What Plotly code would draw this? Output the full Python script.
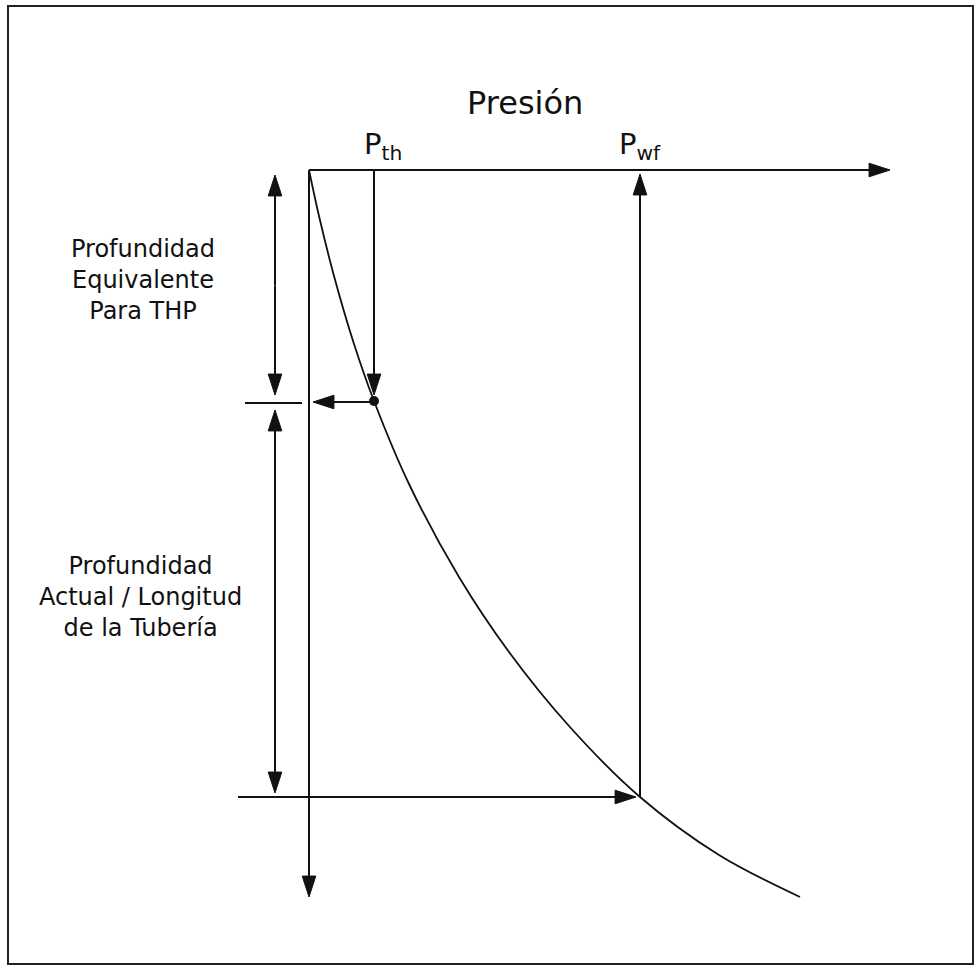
import plotly.graph_objects as go

# ---- Data (horizontal = pressure, vertical = depth; origin at the axes corner) ----
curve_pressure = [0, 10, 25, 45, 65, 100, 150, 200, 260, 331, 410, 491]
curve_depth = [0, 46, 106, 174, 231, 314, 407, 482, 556, 627, 685, 727]
P_th = 65            # tubing head pressure
P_wf = 331           # flowing bottom-hole pressure
depth_equiv = 231    # equivalent depth for THP
depth_total = 627    # equivalent depth + actual depth
pressure_axis_max = 581
depth_axis_max = 727
axis_title = "Presión"
label_pth = "P<sub>th</sub>"
label_pwf = "P<sub>wf</sub>"
label_upper = ["Profundidad", "Equivalente", "Para THP"]
label_lower = ["Profundidad", "Actual / Longitud", "de la Tubería"]

INK = "#111111"
FONT = "DejaVu Sans"
DIM_X = -34          # x of the dimension arrows on the left
ARW = 22             # arrowhead marker size

fig = go.Figure()


def arrow(x0, y0, x1, y1, width=2):
    fig.add_trace(go.Scatter(
        x=[x0, x1], y=[y0, y1], mode="lines+markers",
        line=dict(color=INK, width=width),
        marker=dict(symbol="arrow", size=[0, ARW], angleref="previous",
                    color=INK, opacity=1, line=dict(width=1, color=INK)),
        hoverinfo="skip", showlegend=False))


def seg(x0, y0, x1, y1, width=2):
    fig.add_trace(go.Scatter(
        x=[x0, x1], y=[y0, y1], mode="lines",
        line=dict(color=INK, width=width),
        hoverinfo="skip", showlegend=False))


# gradient curve
fig.add_trace(go.Scatter(x=curve_pressure, y=curve_depth, mode="lines",
                         line=dict(color=INK, width=1.8, shape="spline", smoothing=1.0),
                         hoverinfo="skip", showlegend=False))

# axes
arrow(0, 0, pressure_axis_max, 0)
arrow(0, 0, 0, depth_axis_max)

# Pth down to curve, then left to depth axis
arrow(P_th, 0, P_th, depth_equiv - 6)
arrow(P_th, depth_equiv + 1, 4, depth_equiv + 1)
fig.add_trace(go.Scatter(x=[P_th], y=[depth_equiv], mode="markers",
                         marker=dict(color=INK, size=10),
                         hoverinfo="skip", showlegend=False))
seg(-64, depth_equiv + 2, -7, depth_equiv + 2)

# dimension arrows
mid1 = depth_equiv / 2
arrow(DIM_X, mid1, DIM_X, 5)
arrow(DIM_X, mid1, DIM_X, depth_equiv - 6)
mid2 = (depth_equiv + depth_total) / 2
arrow(DIM_X, mid2, DIM_X, depth_equiv + 9)
arrow(DIM_X, mid2, DIM_X, depth_total - 4)

# total depth arrow to curve and Pwf up
arrow(-71, depth_total, P_wf - 4, depth_total)
arrow(P_wf, depth_total, P_wf, 4)

ann = []
ann.append(dict(x=216, y=-67, text=axis_title, showarrow=False,
                font=dict(family=FONT, size=32, color=INK), xanchor="center", yanchor="middle"))
ann.append(dict(x=74, y=-24, text=label_pth, showarrow=False,
                font=dict(family=FONT, size=29, color=INK), xanchor="center", yanchor="middle"))
ann.append(dict(x=331, y=-24, text=label_pwf, showarrow=False,
                font=dict(family=FONT, size=29, color=INK), xanchor="center", yanchor="middle"))
ann.append(dict(x=-166, y=110, text="<br>".join(label_upper), showarrow=False, align="center",
                font=dict(family=FONT, size=24, color=INK), xanchor="center", yanchor="middle"))
ann.append(dict(x=-169, y=427, text="<br>".join(label_lower), showarrow=False, align="center",
                font=dict(family=FONT, size=24, color=INK), xanchor="center", yanchor="middle"))

fig.update_layout(
    width=975, height=968, margin=dict(l=0, r=0, t=0, b=0),
    paper_bgcolor="white", plot_bgcolor="white", showlegend=False,
    xaxis=dict(range=[-309, 666], visible=False, fixedrange=True),
    yaxis=dict(range=[798, -170], visible=False, fixedrange=True),
    annotations=ann,
    shapes=[dict(type="rect", xref="paper", yref="paper",
                 x0=8 / 975, x1=973 / 975, y0=1 - 964 / 968, y1=1 - 6 / 968,
                 line=dict(color="#222222", width=2), fillcolor="rgba(0,0,0,0)")],
)

fig.write_html("out.html", config={"displayModeBar": False},
               post_script="document.body.style.margin='0';document.body.style.overflow='hidden';")
